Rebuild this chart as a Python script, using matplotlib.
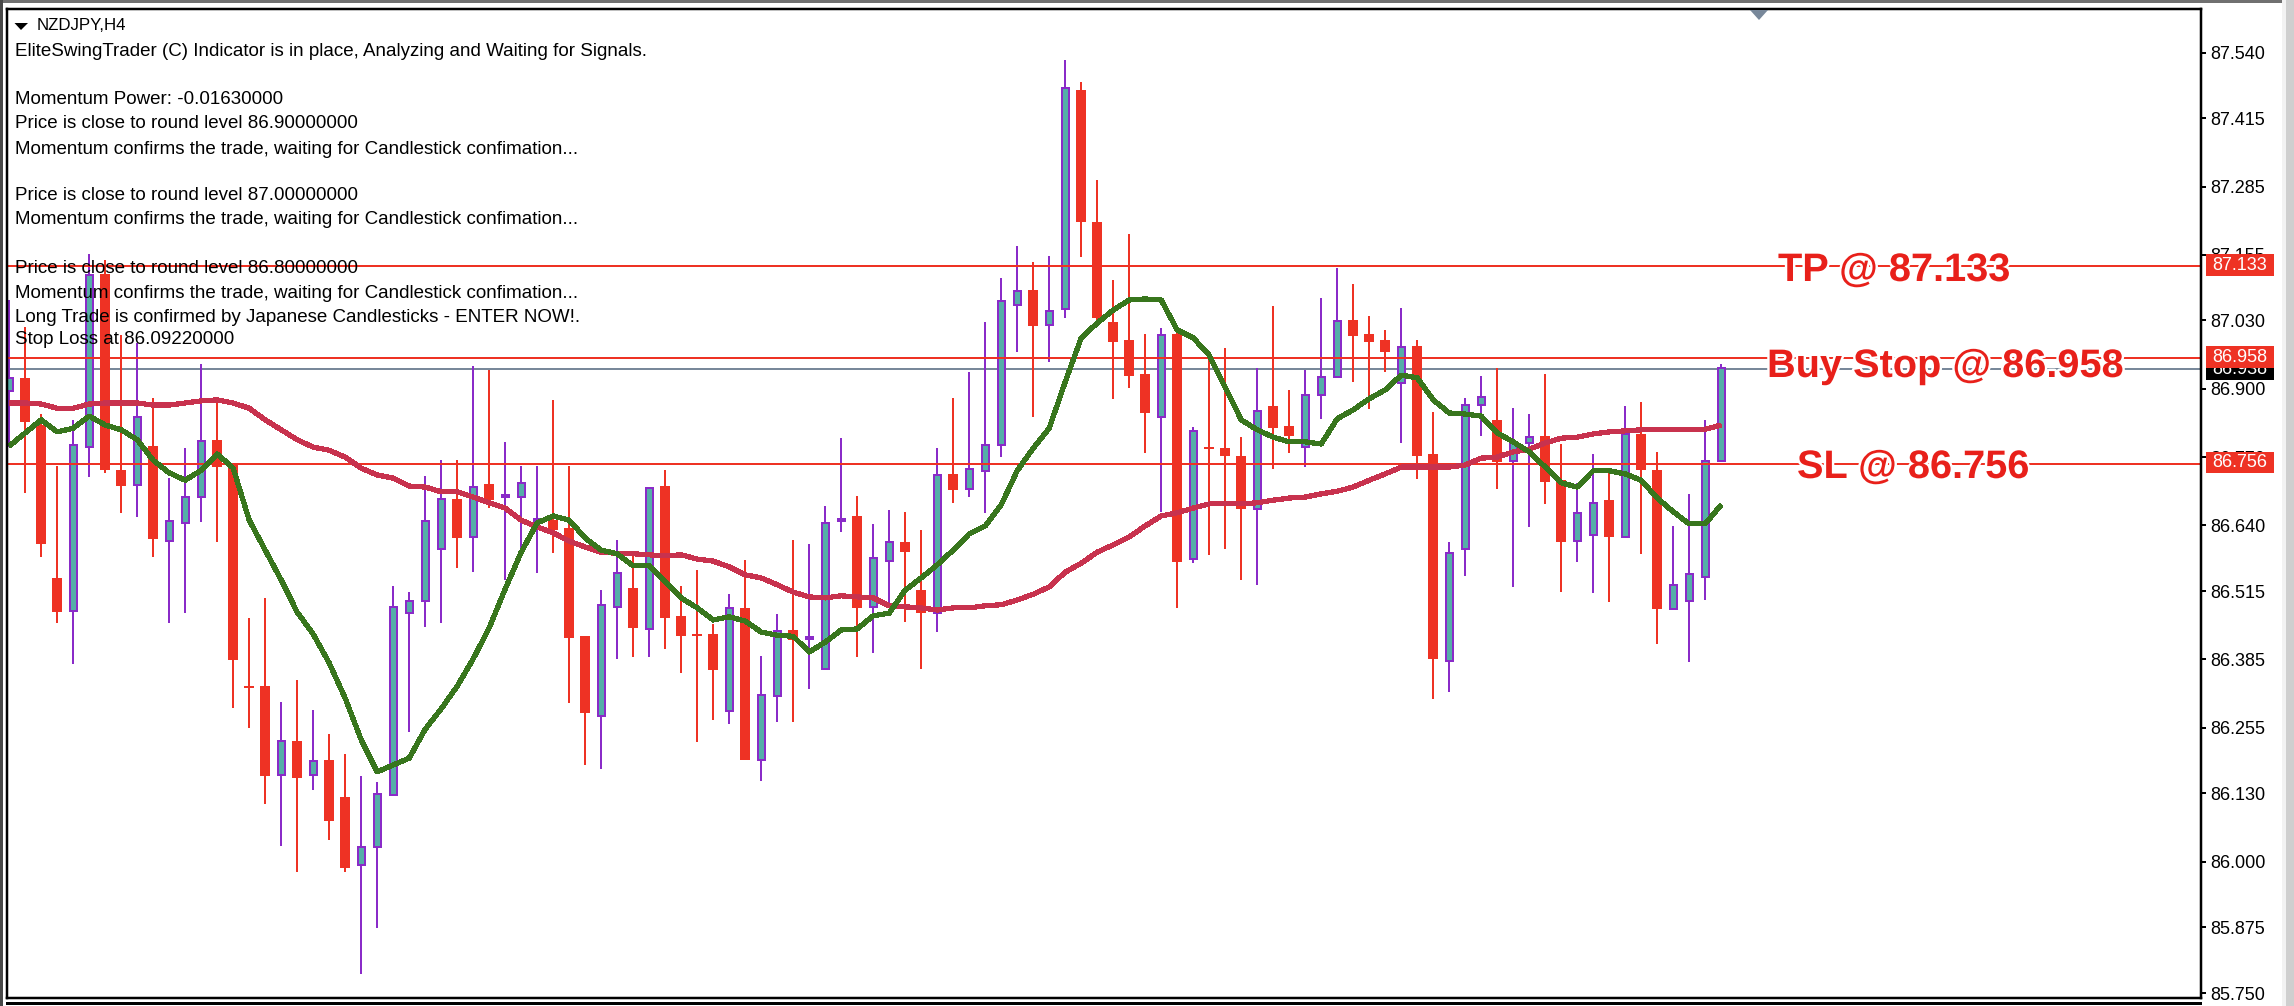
import matplotlib
matplotlib.use("Agg")
import matplotlib.pyplot as plt
from matplotlib.patches import Rectangle, Polygon
import matplotlib.patheffects as pe

plt.rcParams['font.family'] = ['Liberation Sans', 'DejaVu Sans']

W, H = 2294, 1006

opens = [86.896,86.921,86.831,86.540,86.477,86.789,87.118,86.745,86.717,86.791,
         86.610,86.645,86.694,86.803,86.755,86.334,86.334,86.165,86.230,86.165,
         86.193,86.123,85.994,86.028,86.127,86.473,86.496,86.595,86.690,86.618,
         86.719,86.694,86.694,86.648,86.650,86.635,86.429,86.277,86.485,86.521,
         86.443,86.715,86.468,86.433,86.433,86.287,86.483,86.194,86.315,86.441,
         86.424,86.367,86.648,86.658,86.485,86.572,86.608,86.517,86.473,86.738,
         86.709,86.744,86.793,87.059,87.088,87.021,87.052,87.469,87.217,87.027,
         86.993,86.928,86.846,87.004,86.576,86.789,86.787,86.772,86.671,86.867,
         86.829,86.789,86.888,86.922,87.031,87.004,86.993,86.911,86.981,86.776,
         86.382,86.595,86.869,86.841,86.763,86.797,86.810,86.726,86.610,86.622,
         86.688,86.618,86.814,86.745,86.481,86.496,86.542,86.763]
closes = [86.920,86.837,86.605,86.475,86.793,87.117,86.745,86.715,86.846,86.614,
          86.648,86.694,86.801,86.751,86.384,86.331,86.163,86.230,86.159,86.192,
          86.077,85.988,86.028,86.129,86.485,86.496,86.648,86.690,86.616,86.713,
          86.688,86.698,86.721,86.652,86.631,86.426,86.283,86.489,86.549,86.445,
          86.711,86.464,86.429,86.429,86.365,86.483,86.194,86.317,86.439,86.422,
          86.428,86.645,86.652,86.483,86.578,86.608,86.589,86.473,86.736,86.707,
          86.747,86.793,87.067,87.086,87.020,87.048,87.473,87.217,87.035,86.989,
          86.924,86.854,87.002,86.570,86.820,86.785,86.772,86.671,86.858,86.825,
          86.810,86.888,86.922,87.029,87.000,86.989,86.970,86.980,86.772,86.386,
          86.587,86.869,86.884,86.761,86.797,86.808,86.723,86.608,86.664,86.683,
          86.618,86.814,86.745,86.481,86.527,86.548,86.763,86.940]
highs = [87.069,87.018,86.852,86.753,86.841,87.157,87.145,87.002,86.987,86.882,
         86.730,86.787,86.947,86.875,86.759,86.464,86.502,86.304,86.346,86.289,
         86.243,86.205,86.163,86.152,86.525,86.513,86.734,86.764,86.764,86.943,
         86.936,86.799,86.753,86.753,86.879,86.753,86.429,86.517,86.612,86.582,
         86.713,86.745,86.525,86.555,86.452,86.509,86.574,86.391,86.471,86.612,
         86.605,86.677,86.806,86.696,86.643,86.669,86.666,86.631,86.787,86.882,
         86.932,87.027,87.111,87.172,87.141,87.153,87.525,87.484,87.297,87.107,
         87.195,87.004,87.016,87.006,86.827,86.959,86.978,86.808,86.940,87.058,
         86.898,86.936,87.073,87.130,87.099,87.039,87.012,87.054,86.993,86.856,
         86.608,86.882,86.924,86.940,86.863,86.852,86.928,86.795,86.721,86.776,
         86.745,86.867,86.875,86.780,86.639,86.700,86.841,86.947]
lows = [86.789,86.702,86.580,86.454,86.376,86.732,86.740,86.664,86.656,86.580,
        86.454,86.473,86.646,86.608,86.292,86.254,86.110,86.030,85.980,86.136,
        86.041,85.980,85.786,85.874,86.127,86.247,86.447,86.454,86.559,86.551,
        86.673,86.536,86.593,86.549,86.587,86.302,86.184,86.176,86.386,86.390,
        86.390,86.405,86.359,86.228,86.270,86.262,86.194,86.154,86.266,86.266,
        86.329,86.367,86.627,86.390,86.397,86.485,86.456,86.367,86.437,86.683,
        86.694,86.664,86.770,86.970,86.846,86.951,87.035,87.151,87.027,86.881,
        86.902,86.778,86.666,86.483,86.568,86.584,86.595,86.536,86.527,86.747,
        86.778,86.751,86.843,86.922,86.913,86.862,86.932,86.797,86.728,86.310,
        86.323,86.544,86.810,86.709,86.523,86.637,86.681,86.513,86.570,86.511,
        86.494,86.618,86.586,86.414,86.481,86.380,86.498,86.763]
fast_ma = [86.791,86.816,86.841,86.818,86.825,86.848,86.831,86.822,86.803,86.764,
           86.740,86.726,86.745,86.776,86.749,86.650,86.593,86.536,86.475,86.433,
           86.378,86.311,86.232,86.171,86.184,86.197,86.252,86.291,86.334,86.386,
           86.445,86.519,86.589,86.645,86.658,86.650,86.616,86.593,86.586,86.563,
           86.563,86.532,86.502,86.483,86.460,86.466,86.458,86.437,86.431,86.429,
           86.399,86.418,86.441,86.443,86.468,86.473,86.517,86.540,86.565,86.593,
           86.624,86.639,86.679,86.744,86.787,86.825,86.913,86.997,87.025,87.050,
           87.069,87.071,87.069,87.012,86.997,86.964,86.903,86.841,86.822,86.808,
           86.799,86.799,86.795,86.843,86.860,86.881,86.898,86.926,86.921,86.879,
           86.854,86.852,86.848,86.816,86.799,86.780,86.751,86.721,86.713,86.744,
           86.744,86.738,86.726,86.692,86.666,86.643,86.643,86.679]
slow_ma = [86.873,86.873,86.871,86.863,86.863,86.871,86.873,86.873,86.873,86.869,
           86.869,86.873,86.877,86.879,86.873,86.863,86.841,86.822,86.803,86.789,
           86.783,86.770,86.749,86.736,86.730,86.715,86.713,86.704,86.704,86.694,
           86.683,86.673,86.650,86.637,86.626,86.610,86.599,86.589,86.587,86.586,
           86.584,86.582,86.584,86.576,86.572,86.561,86.546,86.540,86.527,86.513,
           86.504,86.502,86.506,86.504,86.502,86.487,86.485,86.483,86.479,86.483,
           86.483,86.487,86.489,86.498,86.509,86.523,86.551,86.568,86.589,86.603,
           86.618,86.639,86.658,86.664,86.673,86.681,86.681,86.681,86.683,86.688,
           86.692,86.694,86.700,86.705,86.713,86.726,86.738,86.751,86.751,86.751,
           86.751,86.755,86.768,86.770,86.780,86.785,86.797,86.806,86.808,86.814,
           86.818,86.820,86.822,86.822,86.822,86.822,86.823,86.831]

tick_values = [87.540,87.415,87.285,87.155,87.030,86.900,86.770,86.640,86.515,
               86.385,86.255,86.130,86.000,85.875,85.750]
take_profit = 87.133
buy_stop = 86.958
stop_loss = 86.756
bid_price = 86.938

info_lines = [
    (52, "EliteSwingTrader (C) Indicator is in place, Analyzing and Waiting for Signals."),
    (100, "Momentum Power: -0.01630000"),
    (124, "Price is close to round level 86.90000000"),
    (149, "Momentum confirms the trade, waiting for Candlestick confimation..."),
    (196, "Price is close to round level 87.00000000"),
    (220, "Momentum confirms the trade, waiting for Candlestick confimation..."),
    (268, "Price is close to round level 86.80000000"),
    (293, "Momentum confirms the trade, waiting for Candlestick confimation..."),
    (317, "Long Trade is confirmed by Japanese Candlesticks - ENTER NOW!."),
    (340, "Stop Loss at 86.09220000"),
]

RED = '#ee3224'
PURPLE = '#8a2bc8'
TEAL = '#55aea8'
CRIMSON = '#c8324e'
GREEN = '#38761d'
SLATE = '#78889a'
px = 0.72  # points per pixel at dpi 100

fig = plt.figure(figsize=(W / 100, H / 100), dpi=100, facecolor='white')
L, R, T, B = 7, 2201, 9, 998
ax = fig.add_axes([L / W, 1 - B / H, (R - L) / W, (B - T) / H])
ax.set_xlim((L - 9.2) / 16, (R - 9.2) / 16)
ax.set_ylim(87.64 - B * 0.0019033, 87.64 - T * 0.0019033)

xs = list(range(len(opens)))
up = [c >= o for o, c in zip(opens, closes)]

ax.axhline(bid_price, color=SLATE, lw=2 * px, zorder=1)

for x, o, c, h, l, u in zip(xs, opens, closes, highs, lows, up):
    col = PURPLE if u else RED
    ax.vlines(x, l, h, color=col, lw=2 * px, zorder=2)
    if u:
        ax.bar(x, c - o, bottom=o, width=7.4 / 16, facecolor=TEAL,
               edgecolor=PURPLE, linewidth=2 * px, zorder=2.5)
    else:
        ax.bar(x, max(o - c, 0.004), bottom=c, width=10 / 16, facecolor=RED,
               edgecolor='none', zorder=2.5)

for level in (take_profit, buy_stop, stop_loss):
    ax.axhline(level, color=RED, lw=2 * px, zorder=3)

ax.plot(xs, slow_ma, color=CRIMSON, lw=4.2 * px, zorder=4, antialiased=False,
        solid_capstyle='butt')
ax.plot(xs, fast_ma, color=GREEN, lw=4.2 * px, zorder=5, antialiased=False,
        solid_capstyle='butt')

ax.set_xticks([])
ax.yaxis.tick_right()
ax.set_yticks(tick_values)
ax.set_yticklabels([f"{v:.3f}" for v in tick_values], fontsize=13, color='black')
ax.tick_params(axis='y', length=4.5 * px, width=2 * px, pad=5 * px, color='black')
for s in ax.spines.values():
    s.set_linewidth(2.5 * px)
    s.set_color('black')
    s.set_zorder(10)


def frame_text(xp, yp, s, **kw):
    return fig.text(xp / W, 1 - yp / H, s, **kw)


def frame_rect(x0, y0, x1, y1, color, z=3):
    fig.add_artist(Rectangle((x0 / W, 1 - y1 / H), (x1 - x0) / W, (y1 - y0) / H,
                             transform=fig.transFigure, facecolor=color,
                             edgecolor='none', zorder=z))


# window chrome
frame_rect(0, 0, W, 3, '#707070')
frame_rect(0, 0, 2.5, H, '#484848')
frame_rect(2282, 0, 2286, H, '#f2f2f2')
frame_rect(2286, 0, W, H, '#cfcfcf')
frame_rect(6, 1002, R + 1, 1005, 'black')

# symbol header and indicator text
fig.add_artist(Polygon([(14.5 / W, 1 - 23 / H), (28 / W, 1 - 23 / H), (21 / W, 1 - 30 / H)],
                       closed=True, transform=fig.transFigure, facecolor='black',
                       edgecolor='none', zorder=6))
frame_text(37, 25, "NZDJPY,H4", fontsize=12.2, va='center', ha='left', color='black', zorder=6)
for yp, s in info_lines:
    frame_text(15, yp, s, fontsize=13.5, va='center', ha='left', color='black', zorder=6)

# small scroll marker at top of the chart
fig.add_artist(Polygon([(1750 / W, 1 - 10 / H), (1768 / W, 1 - 10 / H), (1759 / W, 1 - 20 / H)],
                       closed=True, transform=fig.transFigure, facecolor=SLATE,
                       edgecolor='none', zorder=6))

# big trade labels (white halo breaks the level lines around the letters)
halo = [pe.withStroke(linewidth=3.5, foreground='white')]
for xp, yp, s in ((1778, 270, "TP @ 87.133"), (1767, 366, "Buy Stop @ 86.958"), (1797, 467, "SL @ 86.756")):
    frame_text(xp, yp, s, fontsize=28.6, fontweight='bold', color='#e8201a', ha='left',
               va='center', path_effects=halo, zorder=7)

# price-tag boxes on the scale
frame_rect(2206, 358, 2274, 380, 'black', z=4)
frame_text(2212, 369, f"{bid_price:.3f}", fontsize=13, color='white', ha='left', va='center', zorder=4.5)
for y0, y1, v in ((254, 276, take_profit), (346, 368, buy_stop), (452, 473, stop_loss)):
    frame_rect(2206, y0, 2274, y1, RED, z=5)
    frame_text(2212, (y0 + y1) / 2, f"{v:.3f}", fontsize=13, color='white', ha='left', va='center', zorder=5.5)

fig.savefig('out.png', dpi=100, facecolor='white')
